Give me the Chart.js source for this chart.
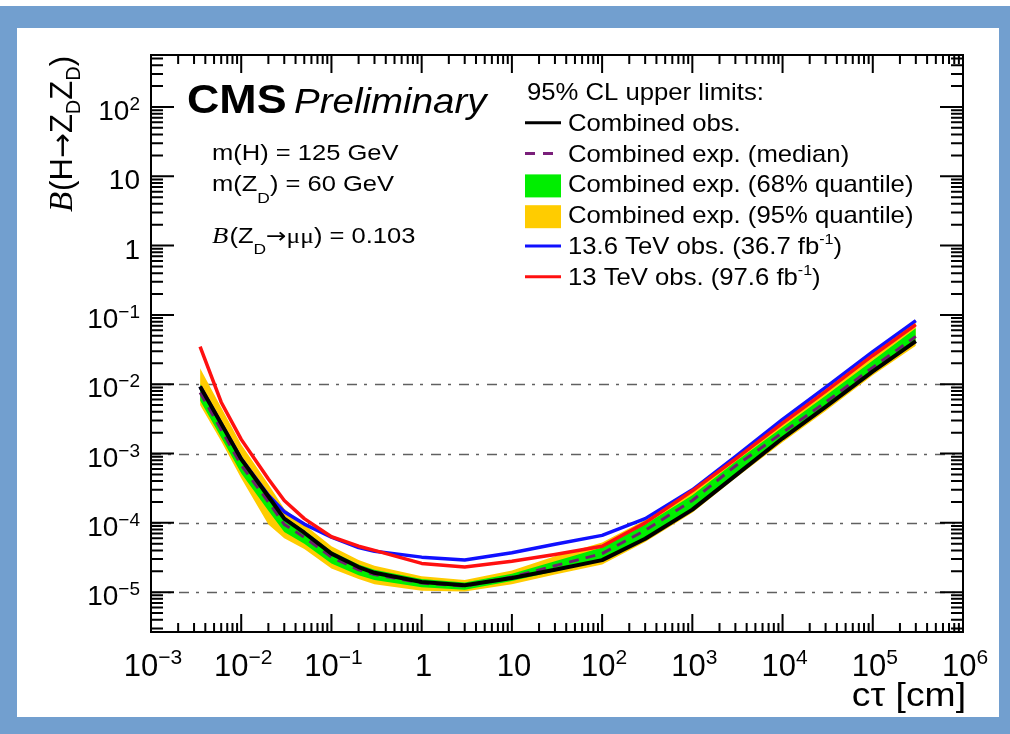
<!DOCTYPE html>
<html>
<head>
<meta charset="utf-8">
<script src="https://cdn.jsdelivr.net/npm/chart.js@4.4.1/dist/chart.umd.min.js"></script>
<style>
  html, body { margin: 0; padding: 0; background: #ffffff; overflow: hidden; }
  #wrap { width: 1010px; height: 734px; position: relative; }
</style>
</head>
<body>
<div id="wrap"><canvas id="c" width="1010" height="734"></canvas></div>
<script>
// Proper decay length c*tau [cm] at which the limits are evaluated
const ctau = [0.0035, 0.006, 0.01, 0.02, 0.03, 0.05, 0.1, 0.2, 0.3, 1, 3, 10, 30, 100, 300, 1000, 3000, 1e4, 3e4, 1e5, 3e5];

// 95% CL upper limits on B(H -> ZD ZD)
const obsCombined = [9.3e-3, 2.7e-3, 8.3e-4, 2.4e-4, 1.15e-4, 7.2e-5, 3.6e-5, 2.3e-5, 1.9e-5, 1.4e-5, 1.26e-5, 1.6e-5, 2.1e-5, 2.9e-5, 5.9e-5, 1.55e-4, 4.8e-4, 1.66e-3, 4.7e-3, 1.53e-2, 4.2e-2];
const expMedian   = [7.6e-3, 2.2e-3, 6.8e-4, 2.0e-4, 9.5e-5, 6.2e-5, 3.2e-5, 2.1e-5, 1.8e-5, 1.35e-5, 1.22e-5, 1.65e-5, 2.4e-5, 3.6e-5, 7.8e-5, 2.1e-4, 6.6e-4, 2.0e-3, 5.5e-3, 1.75e-2, 4.9e-2];
const exp68Lo     = [5.8e-3, 1.7e-3, 5.2e-4, 1.5e-4, 7.4e-5, 5.0e-5, 2.6e-5, 1.75e-5, 1.5e-5, 1.18e-5, 1.08e-5, 1.45e-5, 2.0e-5, 2.8e-5, 6.0e-5, 1.6e-4, 5.0e-4, 1.6e-3, 4.5e-3, 1.45e-2, 4.0e-2];
const exp68Hi     = [1.0e-2, 2.9e-3, 9.0e-4, 2.6e-4, 1.22e-4, 7.8e-5, 3.9e-5, 2.5e-5, 2.1e-5, 1.55e-5, 1.38e-5, 1.85e-5, 2.8e-5, 4.4e-5, 9.5e-5, 2.5e-4, 7.6e-4, 2.4e-3, 6.8e-3, 2.2e-2, 6.4e-2];
const exp95Lo     = [5.0e-3, 1.5e-3, 4.4e-4, 9.5e-5, 6.0e-5, 4.2e-5, 2.2e-5, 1.55e-5, 1.3e-5, 1.05e-5, 1.02e-5, 1.3e-5, 1.8e-5, 2.5e-5, 5.3e-5, 1.4e-4, 4.4e-4, 1.45e-3, 4.1e-3, 1.35e-2, 3.6e-2];
const exp95Hi     = [1.7e-2, 4.6e-3, 1.35e-3, 3.6e-4, 1.6e-4, 9.5e-5, 4.6e-5, 2.9e-5, 2.4e-5, 1.7e-5, 1.5e-5, 2.05e-5, 3.3e-5, 5.2e-5, 1.1e-4, 3.0e-4, 8.8e-4, 2.8e-3, 8.3e-3, 2.8e-2, 8.5e-2];
const obs136TeV   = [9.2e-3, 2.7e-3, 8.4e-4, 2.5e-4, 1.45e-4, 9.6e-5, 6.2e-5, 4.4e-5, 3.9e-5, 3.2e-5, 2.9e-5, 3.7e-5, 4.9e-5, 6.6e-5, 1.15e-4, 3.0e-4, 9.0e-4, 3.1e-3, 9.0e-3, 2.96e-2, 8.26e-2];
const obs13TeV    = [3.5e-2, 5.5e-3, 1.6e-3, 4.3e-4, 2.1e-4, 1.15e-4, 6.3e-5, 4.6e-5, 4.0e-5, 2.6e-5, 2.3e-5, 2.8e-5, 3.5e-5, 4.6e-5, 1.0e-4, 2.9e-4, 8.3e-4, 2.75e-3, 7.9e-3, 2.6e-2, 7.24e-2];

// Axis decades carrying a label (powers of ten)
const xTickExponents = [-3, -2, -1, 0, 1, 2, 3, 4, 5, 6];
const yTickExponents = [-5, -4, -3, -2, -1, 0, 1, 2];
// Horizontal reference lines
const gridValues = [1e-2, 1e-3, 1e-4, 1e-5];

// Legend entries
const legendHeader = '95% CL upper limits:';
const legendLabels = [
  'Combined obs.',
  'Combined exp. (median)',
  'Combined exp. (68% quantile)',
  'Combined exp. (95% quantile)',
  '13.6 TeV obs. (36.7 fb',
  '13 TeV obs. (97.6 fb'
];

const SANS = '"Liberation Sans", Arial, Helvetica, "DejaVu Sans", sans-serif';
const SERIF = '"Liberation Serif", "Times New Roman", "DejaVu Serif", serif';
const ARROW = '"DejaVu Sans", sans-serif';
const sans = (px, style) => (style ? style + ' ' : '') + px + 'px ' + SANS;
const serif = (px, style) => (style ? style + ' ' : '') + px + 'px ' + SERIF;
const arrow = px => px + 'px ' + ARROW;

const X_MIN = 1e-3, X_MAX = 1e6;
const Y_MIN = Math.pow(10, -5.575), Y_MAX = Math.pow(10, 2.75);

const pts = arr => ctau.map((c, i) => ({ x: c, y: arr[i] }));

// --- rich text helpers (sub/superscripts, mixed fonts) ---
function runsWidth(ctx, runs) {
  let w = 0;
  for (const r of runs) { ctx.font = r.font; w += ctx.measureText(r.t).width + (r.gap || 0); }
  return w;
}
function drawRuns(ctx, x, y, runs, sx) {
  sx = sx || 1;
  ctx.save();
  ctx.translate(x, y);
  ctx.scale(sx, 1);
  let cx = 0;
  for (const r of runs) {
    ctx.font = r.font;
    ctx.fillText(r.t, cx, r.dy || 0);
    cx += ctx.measureText(r.t).width + (r.gap || 0);
  }
  ctx.restore();
  return cx * sx;
}
function powerRuns(n, basePx, supPx, raise) {
  if (n === 0) return [{ t: '1', font: sans(basePx) }];
  if (n === 1) return [{ t: '10', font: sans(basePx) }];
  return [
    { t: '10', font: sans(basePx) },
    { t: (n < 0 ? '\u2212' : '') + Math.abs(n), font: sans(supPx), dy: -raise }
  ];
}

// Page background with the surrounding frame
const pageFrame = {
  id: 'pageFrame',
  beforeDraw(chart) {
    const ctx = chart.ctx;
    ctx.save();
    ctx.fillStyle = '#ffffff';
    ctx.fillRect(0, 0, 1010, 734);
    ctx.fillStyle = '#729fcf';
    ctx.fillRect(0, 6, 1010, 728);
    ctx.fillStyle = '#ffffff';
    ctx.fillRect(17, 28, 982, 689);
    ctx.restore();
  }
};

// Dash-dotted horizontal reference lines behind the curves
const refLines = {
  id: 'refLines',
  beforeDatasetsDraw(chart) {
    const ctx = chart.ctx, a = chart.chartArea, ys = chart.scales.y;
    ctx.save();
    ctx.strokeStyle = '#606060';
    ctx.lineWidth = 1.5;
    ctx.setLineDash([10, 7, 3, 8]);
    for (const v of gridValues) {
      const y = Math.round(ys.getPixelForValue(v)) + 0.5;
      ctx.beginPath();
      ctx.moveTo(a.left, y);
      ctx.lineTo(a.right, y);
      ctx.stroke();
    }
    ctx.restore();
  }
};

// Frame, inward ticks, tick labels, axis titles, annotations and legend
const decorations = {
  id: 'decorations',
  afterDraw(chart) {
    const ctx = chart.ctx, a = chart.chartArea;
    const xs = chart.scales.x, ys = chart.scales.y;
    ctx.save();
    ctx.strokeStyle = '#000';
    ctx.fillStyle = '#000';
    ctx.lineWidth = 2;
    ctx.setLineDash([]);

    // frame
    ctx.strokeRect(a.left, a.top, a.right - a.left, a.bottom - a.top);

    // x ticks (bottom and top)
    for (let n = -3; n <= 6; n++) {
      for (let k = 1; k <= 9; k++) {
        const v = k * Math.pow(10, n);
        if (v < X_MIN * 0.999 || v > X_MAX * 1.001) continue;
        const x = xs.getPixelForValue(v);
        const len = k === 1 ? 18 : 9;
        ctx.beginPath();
        ctx.moveTo(x, a.bottom); ctx.lineTo(x, a.bottom - len);
        ctx.moveTo(x, a.top); ctx.lineTo(x, a.top + len);
        ctx.stroke();
      }
    }
    // y ticks (left and right)
    for (let n = -6; n <= 2; n++) {
      for (let k = 1; k <= 9; k++) {
        const v = k * Math.pow(10, n);
        if (v < Y_MIN || v > Y_MAX) continue;
        const y = ys.getPixelForValue(v);
        const len = k === 1 ? 23 : 12;
        ctx.beginPath();
        ctx.moveTo(a.left, y); ctx.lineTo(a.left + len, y);
        ctx.moveTo(a.right, y); ctx.lineTo(a.right - len, y);
        ctx.stroke();
      }
    }

    // x tick labels
    ctx.textBaseline = 'alphabetic';
    ctx.textAlign = 'left';
    for (const n of xTickExponents) {
      const runs = powerRuns(n, 31, 21, 12);
      const w = runsWidth(ctx, runs);
      const x = xs.getPixelForValue(Math.pow(10, n));
      drawRuns(ctx, x - w / 2 + 2, 676, runs);
    }
    // y tick labels
    for (const n of yTickExponents) {
      const runs = powerRuns(n, 28, 19, 10);
      const w = runsWidth(ctx, runs);
      const y = ys.getPixelForValue(Math.pow(10, n));
      drawRuns(ctx, 140 - w, y + 13, runs);
    }

    // x axis title, right aligned with the frame
    {
      const runs = [{ t: 'c\u03c4 [cm]', font: sans(33) }];
      const sx = 1.13;
      const w = runsWidth(ctx, runs) * sx;
      drawRuns(ctx, 966 - w, 706, runs, sx);
    }
    // y axis title, rotated, ending at the top of the frame
    {
      const runs = [
        { t: 'B', font: serif(33, 'italic'), gap: 1 },
        { t: '(H', font: sans(31) },
        { t: '\u2192', font: arrow(30) },
        { t: 'Z', font: sans(31) },
        { t: 'D', font: sans(20), dy: 8 },
        { t: 'Z', font: sans(31) },
        { t: 'D', font: sans(20), dy: 8 },
        { t: ')', font: sans(31) }
      ];
      const w = runsWidth(ctx, runs);
      ctx.save();
      ctx.translate(72, 56);
      ctx.rotate(-Math.PI / 2);
      drawRuns(ctx, -w, 0, runs);
      ctx.restore();
    }

    // experiment label
    drawRuns(ctx, 187, 113, [{ t: 'CMS', font: sans(40, 'bold') }], 1.12);
    drawRuns(ctx, 294, 113, [{ t: 'Preliminary', font: sans(35, 'italic') }], 1.1);

    // model parameters
    const ann = 22, annSub = 15, annSx = 1.16;
    drawRuns(ctx, 212, 160, [{ t: 'm(H) = 125 GeV', font: sans(ann) }], annSx);
    drawRuns(ctx, 212, 191, [
      { t: 'm(Z', font: sans(ann) },
      { t: 'D', font: sans(annSub), dy: 12 },
      { t: ') = 60 GeV', font: sans(ann) }
    ], annSx);
    drawRuns(ctx, 212, 243, [
      { t: 'B', font: serif(23, 'italic'), gap: 1 },
      { t: '(Z', font: sans(ann) },
      { t: 'D', font: sans(annSub), dy: 11 },
      { t: '\u2192', font: arrow(21) },
      { t: '\u03bc\u03bc', font: serif(ann) },
      { t: ') = 0.103', font: sans(ann) }
    ], annSx);

    // legend
    const lx = 525, tx = 568, lsx = 1.07, lf = 24;
    const base = i => 100 + 30.8 * i;
    drawRuns(ctx, 527, base(0), [{ t: legendHeader, font: sans(lf) }], lsx);
    const lineSym = (i, color, width, dash) => {
      const y = base(i) - 8;
      ctx.save();
      ctx.strokeStyle = color; ctx.lineWidth = width; ctx.setLineDash(dash || []);
      ctx.beginPath(); ctx.moveTo(lx, y); ctx.lineTo(lx + 36, y); ctx.stroke();
      ctx.restore();
    };
    const boxSym = (i, color) => {
      ctx.save();
      ctx.fillStyle = color;
      ctx.fillRect(lx, base(i) - 18, 36, 23);
      ctx.restore();
    };
    lineSym(1, '#000000', 3);
    lineSym(2, '#7a1f7a', 3, [10, 8]);
    boxSym(3, '#00ee00');
    boxSym(4, '#ffcc00');
    lineSym(5, '#1010ff', 3);
    lineSym(6, '#ff1010', 3);
    ctx.fillStyle = '#000';
    for (let i = 0; i < 4; i++) {
      drawRuns(ctx, tx, base(i + 1), [{ t: legendLabels[i], font: sans(lf) }], lsx);
    }
    for (let i = 4; i < 6; i++) {
      drawRuns(ctx, tx, base(i + 1), [
        { t: legendLabels[i], font: sans(lf) },
        { t: '-1', font: sans(15), dy: -10 },
        { t: ')', font: sans(lf) }
      ], lsx);
    }
    ctx.restore();
  }
};

const lineDs = (data, color, width, order, dash) => ({
  data: pts(data), borderColor: color, borderWidth: width, borderDash: dash || [],
  borderJoinStyle: 'round', pointRadius: 0, fill: false, tension: 0, order: order
});

new Chart(document.getElementById('c'), {
  type: 'line',
  data: {
    datasets: [
      { data: pts(exp95Hi), borderWidth: 0, pointRadius: 0, backgroundColor: '#ffcc00', fill: '+1', tension: 0, order: 10 },
      { data: pts(exp95Lo), borderWidth: 0, pointRadius: 0, fill: false, tension: 0, order: 10 },
      { data: pts(exp68Hi), borderWidth: 0, pointRadius: 0, backgroundColor: '#00ee00', fill: '+1', tension: 0, order: 9 },
      { data: pts(exp68Lo), borderWidth: 0, pointRadius: 0, fill: false, tension: 0, order: 9 },
      lineDs(expMedian, '#6e1f6e', 3, 5, [10, 7]),
      lineDs(obs136TeV, '#1010ff', 3.5, 4),
      lineDs(obsCombined, '#000000', 4, 3),
      lineDs(obs13TeV, '#ff1010', 3.5, 1)
    ]
  },
  options: {
    responsive: false,
    animation: false,
    devicePixelRatio: 1,
    layout: { padding: { left: 151, top: 55, right: 47, bottom: 102 } },
    plugins: { legend: { display: false }, tooltip: { enabled: false } },
    scales: {
      x: { type: 'logarithmic', min: X_MIN, max: X_MAX, bounds: 'data', display: false },
      y: { type: 'logarithmic', min: Y_MIN, max: Y_MAX, bounds: 'data', display: false }
    }
  },
  plugins: [pageFrame, refLines, decorations]
});
</script>
</body>
</html>
